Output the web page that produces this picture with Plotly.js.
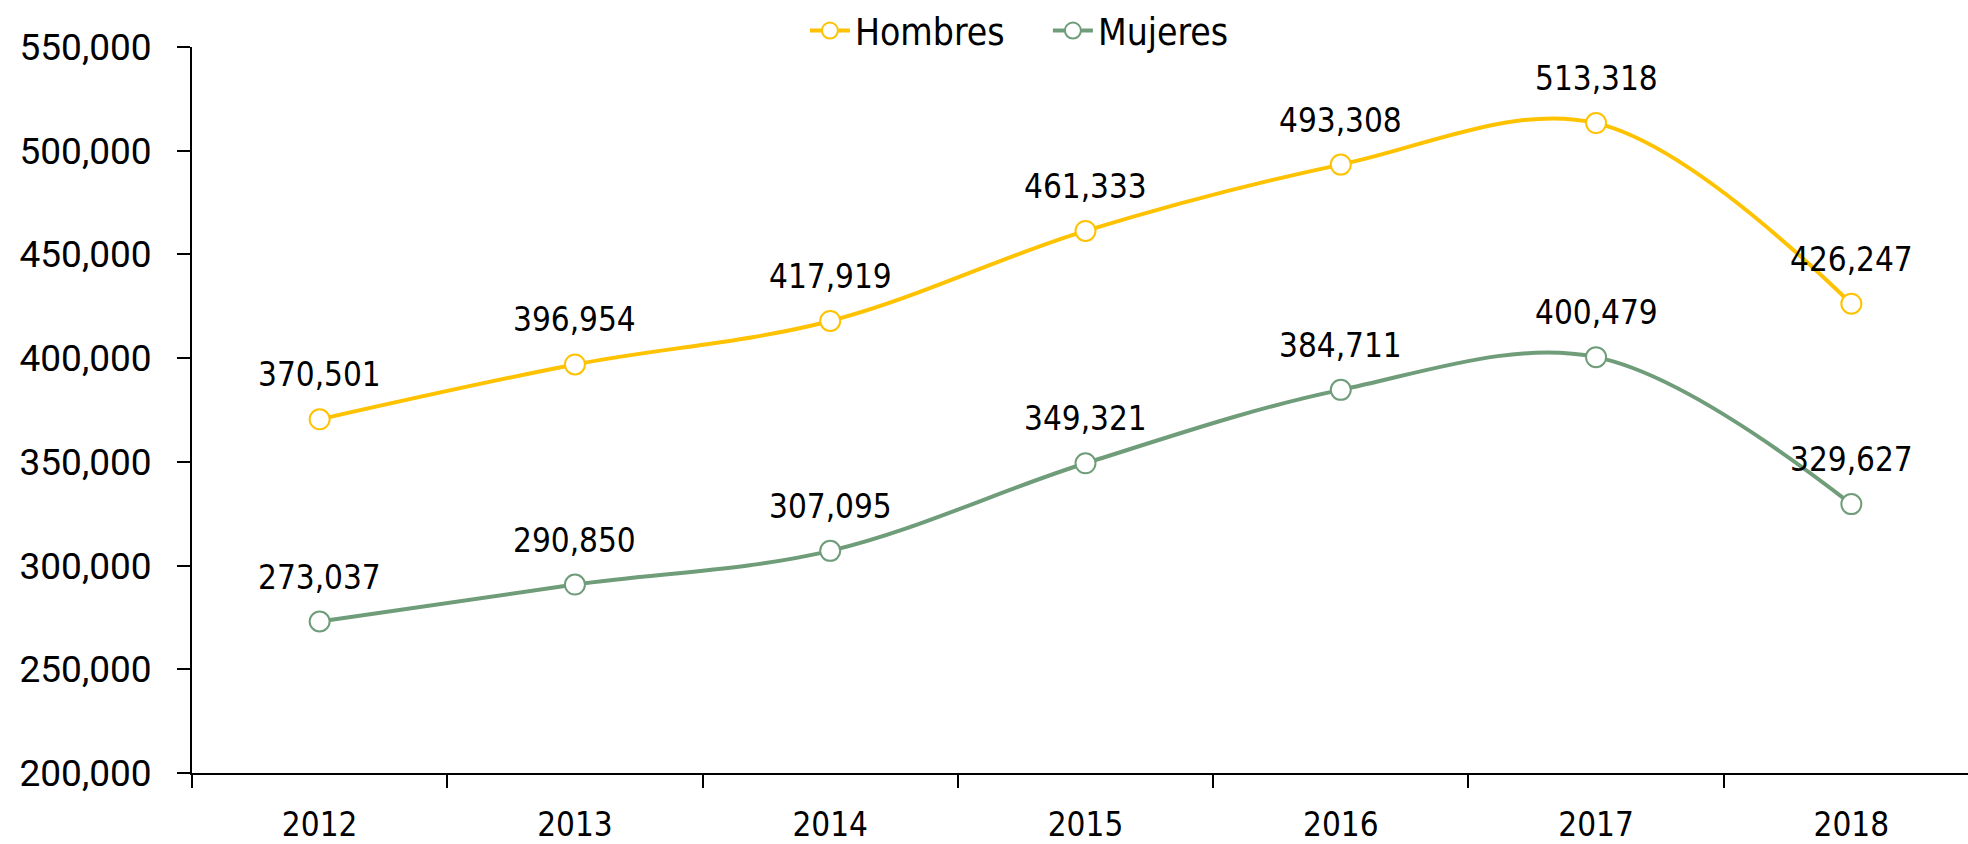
<!DOCTYPE html>
<html>
<head>
<meta charset="utf-8">
<script src="https://cdn.plot.ly/plotly-3.0.1.min.js"></script>
<style>html,body{margin:0;padding:0;background:#fff;}#chart{width:1968px;height:844px;}</style>
</head>
<body>
<div id="chart"></div>
<script>
const years = ["2012", "2013", "2014", "2015", "2016", "2017", "2018"];
const hombres = [370501, 396954, 417919, 461333, 493308, 513318, 426247];
const mujeres = [273037, 290850, 307095, 349321, 384711, 400479, 329627];
const seriesNames = ["Hombres", "Mujeres"];
const yTickVals = [200000, 250000, 300000, 350000, 400000, 450000, 500000, 550000];

const labelFont = "DejaVu Sans Condensed, sans-serif";
const colors = ["#FFC200", "#6F9D79"];

function trace(name, vals, color) {
  return {
    type: "scatter", mode: "lines+markers", name: name,
    x: years, y: vals,
    line: {color: color, width: 4, shape: "spline", smoothing: 1},
    marker: {symbol: "circle", size: 20, color: "#ffffff", line: {color: color, width: 2}}
  };
}

const data = [trace(seriesNames[0], hombres, colors[0]), trace(seriesNames[1], mujeres, colors[1])];

function fmt(v) { return String(v).replace(/\B(?=(\d{3})+(?!\d))/g, ","); }

const annotations = [];
[hombres, mujeres].forEach(vals => {
  vals.forEach((v, i) => {
    annotations.push({
      x: i, y: v, xref: "x", yref: "y",
      text: fmt(v),
      showarrow: false, xanchor: "center", yanchor: "bottom", yshift: 23,
      font: {family: labelFont, size: 33, color: "#000000"}
    });
  });
});

const layout = {
  width: 1968, height: 844,
  margin: {l: 192, r: 0, t: 47, b: 71, autoexpand: false},
  paper_bgcolor: "#fff", plot_bgcolor: "#fff",
  showlegend: true,
  legend: {orientation: "h", xref: "container", yref: "container", x: 0.409, xanchor: "left", y: 1, yanchor: "top",
           font: {family: labelFont, size: 37, color: "#000"}, itemwidth: 40, entrywidth: 188, bgcolor: "rgba(0,0,0,0)"},
  xaxis: {
    type: "category", range: [-0.5, 6.457],
    showline: true, linecolor: "#000", linewidth: 2,
    ticks: "outside", tickson: "boundaries", ticklen: 13, tickcolor: "#000", tickwidth: 2,
    showgrid: false, zeroline: false,
    tickfont: {family: labelFont, size: 33, color: "#000"},
    ticklabelstandoff: 21
  },
  yaxis: {
    range: [200000, 550000], tickvals: yTickVals, tickformat: ",d",
    showline: true, linecolor: "#000", linewidth: 2,
    ticks: "outside", ticklen: 13, tickcolor: "#000", tickwidth: 2,
    showgrid: false, zeroline: false,
    tickfont: {family: "Roboto, Arial, sans-serif", size: 37, color: "#000"},
    ticklabelstandoff: 18
  },
  annotations: annotations
};

Plotly.newPlot("chart", data, layout, {displayModeBar: false});
</script>
</body>
</html>
